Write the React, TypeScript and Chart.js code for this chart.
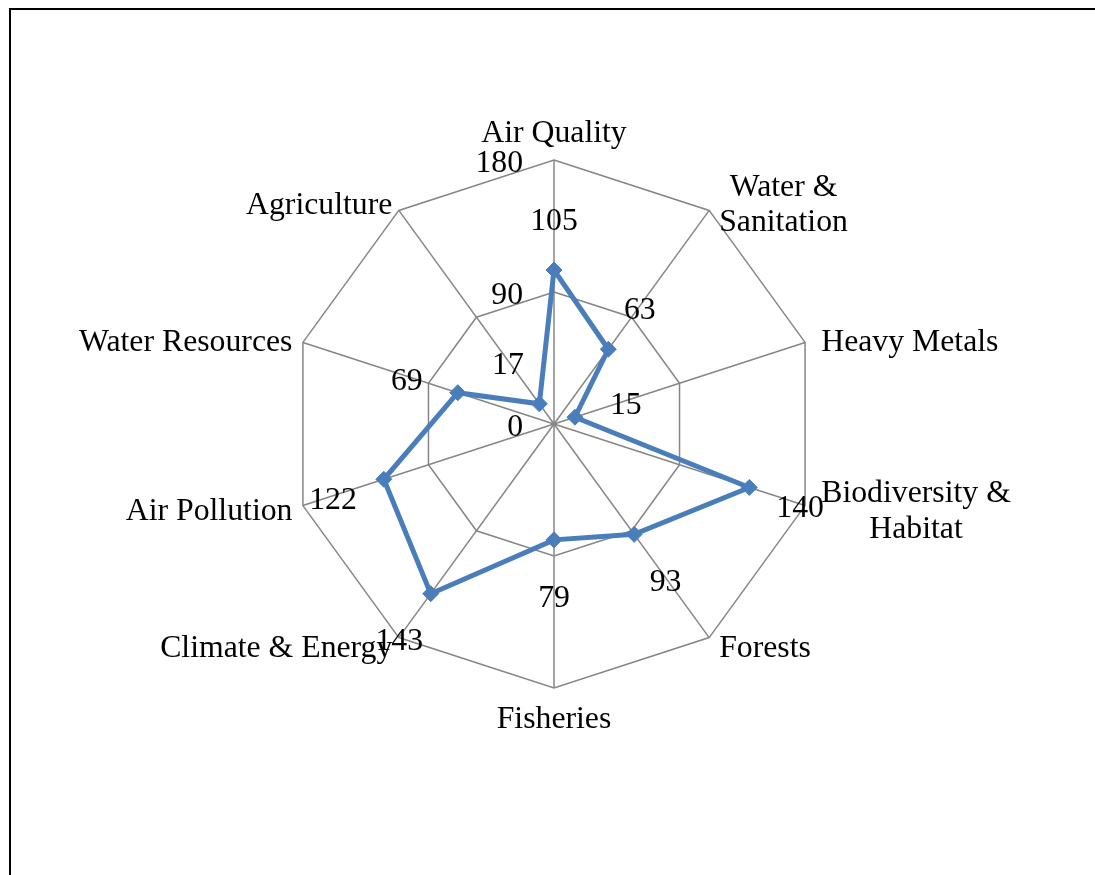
import React, { useEffect, useRef } from 'react';
import { Chart, registerables } from 'chart.js';

Chart.register(...registerables);

// ---- data ----
const categories: (string | string[])[] = [
  'Air Quality',
  ['Water &', 'Sanitation'],
  'Heavy Metals',
  ['Biodiversity &', 'Habitat'],
  'Forests',
  'Fisheries',
  'Climate & Energy',
  'Air Pollution',
  'Water Resources',
  'Agriculture',
];
const scores = [105, 63, 15, 140, 93, 79, 143, 122, 69, 17];
const tickLabels = ['0', '90', '180'];
const axisMin = 0;
const axisMax = 180;
const axisStep = 90;

// ---- styles ----
const FONT = '31.75px "Liberation Serif", "Times New Roman", serif';
const LINE_H = 35.5;
const TEXT_SHIFT = 3;
const SERIES_COLOR = '#4A7EBB';
const GRID_COLOR = '#868686';

const excelLabels = {
  id: 'excelLabels',
  afterDatasetsDraw(chart: any) {
    const scale = chart.scales.r;
    const ctx = chart.ctx as CanvasRenderingContext2D;
    const R = scale.drawingArea;
    ctx.save();
    ctx.font = FONT;
    ctx.fillStyle = '#000000';
    ctx.textBaseline = 'middle';

    // category labels
    categories.forEach((cat, i) => {
      const lines = Array.isArray(cat) ? cat : [cat];
      const v = scale.getPointPosition(i, R);
      const th = v.angle + Math.PI / 2;
      const s = Math.sin(th);
      const c = Math.cos(th);
      const bw = Math.max(...lines.map((l) => ctx.measureText(l).width));
      const bh = lines.length * LINE_H;
      let cx: number;
      let cy: number;
      if (Math.abs(s) < 0.05) {
        cx = v.x;
        cy = v.y - c * (bh / 2 + 11.5) + 2.5;
      } else {
        const gap = (s > 0 ? 17 : 11) * Math.abs(s);
        cx = v.x + Math.sign(s) * (gap + bw / 2);
        cy = v.y - 10 * c + TEXT_SHIFT;
      }
      ctx.textAlign = 'center';
      lines.forEach((l, k) => {
        ctx.fillText(l, cx, cy - bh / 2 + LINE_H * (k + 0.5));
      });
    });

    // axis tick labels (left of the first axis)
    ctx.textAlign = 'right';
    scale.ticks.forEach((t: any, k: number) => {
      const d = scale.getDistanceFromCenterForValue(t.value);
      ctx.fillText(tickLabels[k] ?? String(t.value), scale.xCenter - 31, scale.yCenter - d + 3.5);
    });

    // data labels
    ctx.textAlign = 'center';
    scores.forEach((val, i) => {
      const d = scale.getDistanceFromCenterForValue(val) + 53.5;
      const p = scale.getPointPosition(i, d);
      ctx.fillText(String(val), p.x, p.y + 5);
    });
    ctx.restore();
  },
};

export default function App() {
  const canvasRef = useRef<HTMLCanvasElement | null>(null);

  useEffect(() => {
    if (!canvasRef.current) return;
    const chart = new Chart(canvasRef.current, {
      type: 'radar',
      data: {
        labels: categories,
        datasets: [
          {
            label: 'Score',
            data: scores,
            borderColor: SERIES_COLOR,
            backgroundColor: SERIES_COLOR,
            borderWidth: 5,
            fill: false,
            tension: 0,
            pointStyle: 'rectRot',
            pointRadius: 8,
            pointBorderWidth: 1,
            pointBackgroundColor: SERIES_COLOR,
            pointBorderColor: SERIES_COLOR,
          },
        ],
      },
      options: {
        responsive: false,
        animation: false,
        devicePixelRatio: 1,
        layout: { padding: { left: 290, right: 277, top: 160, bottom: 187 } },
        plugins: {
          legend: { display: false },
          tooltip: { enabled: false },
          title: { display: false },
        },
        scales: {
          r: {
            min: axisMin,
            max: axisMax,
            beginAtZero: true,
            ticks: { display: false, stepSize: axisStep },
            pointLabels: { display: false },
            grid: { color: GRID_COLOR, lineWidth: 1.5, circular: false },
            angleLines: { color: GRID_COLOR, lineWidth: 1.5 },
          },
        },
      },
      plugins: [excelLabels],
    });
    return () => chart.destroy();
  }, []);

  return (
    <div
      style={{
        position: 'fixed',
        left: 0,
        top: 0,
        width: 1095,
        height: 875,
        overflow: 'hidden',
        background: '#ffffff',
      }}
    >
      <div
        style={{
          position: 'absolute',
          left: 9,
          top: 8,
          width: 2000,
          height: 2000,
          borderLeft: '2px solid #000000',
          borderTop: '2px solid #000000',
        }}
      />
      <canvas
        ref={canvasRef}
        width={1095}
        height={875}
        style={{ position: 'absolute', left: 0, top: 0, display: 'block' }}
      />
    </div>
  );
}
